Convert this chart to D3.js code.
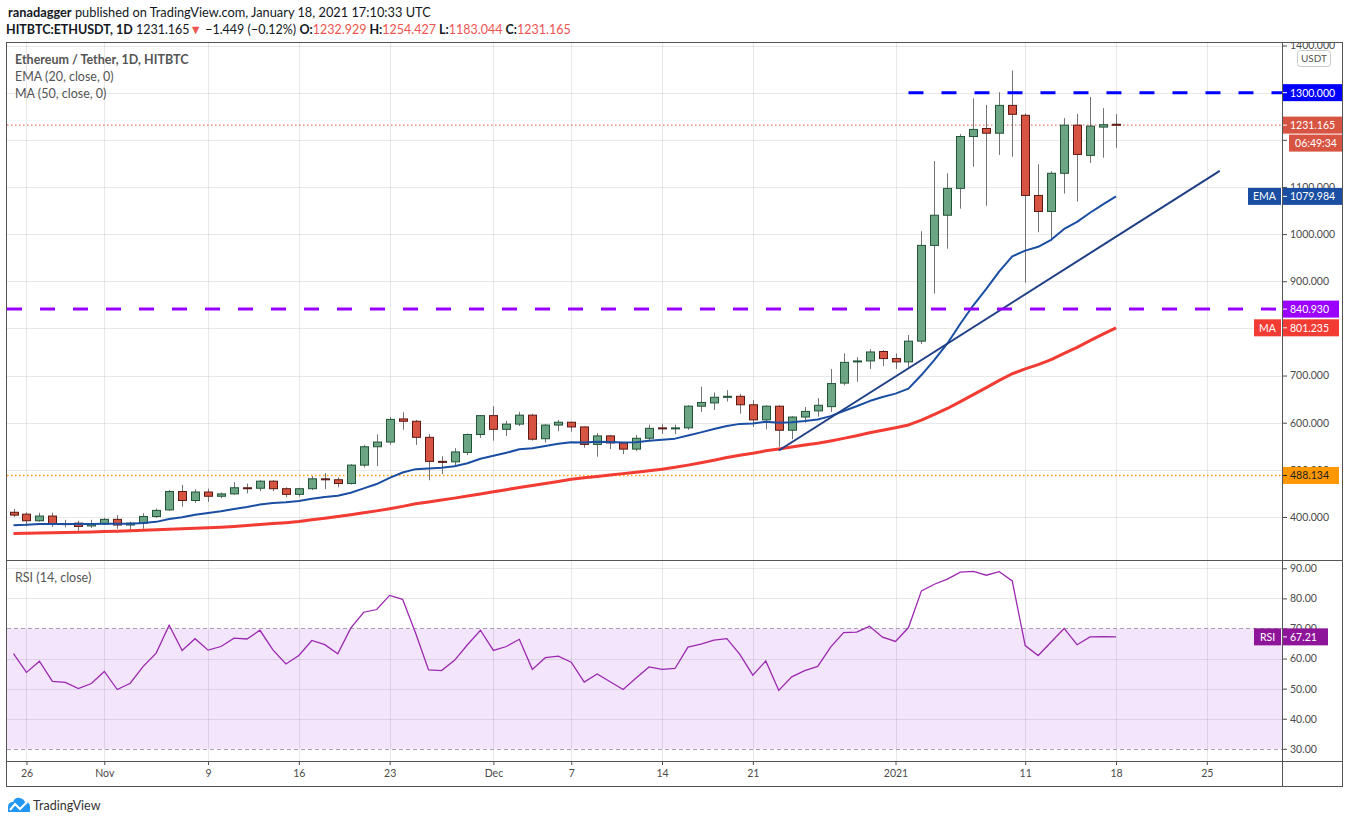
<!DOCTYPE html>
<html>
<head>
<meta charset="utf-8">
<script src="https://cdn.jsdelivr.net/npm/d3@7"></script>
<style>
	body { margin: 0; background: #fff; }
	text { font-family: Lato, "Open Sans", sans-serif; }
</style>
</head>
<body>
<script>
/* ETH/USDT daily candles, 25 Oct 2020 .. 18 Jan 2021 */
const firstDay = '2020-10-25';
const lastDay = '2021-01-18';

const opens = [410, 406, 392, 402, 386, 387, 381, 385, 395, 383,
	387, 401, 415, 454, 435, 453, 444, 449, 462, 461,
	476, 460, 448, 460, 481, 479, 471, 510, 549, 559,
	608, 603, 569, 518, 517, 537, 575, 615, 586, 597,
	616, 566, 595, 601, 591, 554, 572, 557, 544, 567,
	589, 587, 589, 635, 642, 654, 656, 638, 606, 635,
	584, 612, 625, 634, 684, 729, 731, 751, 736, 729,
	773, 976, 1040, 1097, 1207, 1224, 1214, 1273, 1252, 1082,
	1048, 1129, 1231, 1167, 1227, 1232.929];
const highs = [417, 410, 409, 409, 394, 392, 394, 398, 404, 390,
	408, 418, 457, 468, 459, 460, 452, 474, 471, 478,
	478, 463, 462, 487, 493, 484, 512, 553, 575, 612,
	622, 606, 576, 529, 546, 577, 616, 635, 604, 623,
	619, 597, 606, 602, 592, 578, 574, 559, 574, 596,
	597, 596, 637, 676, 664, 669, 661, 648, 637, 637,
	614, 633, 652, 714, 747, 739, 756, 754, 747, 786,
	1006, 1155, 1129, 1212, 1288, 1274, 1301, 1347, 1256, 1148,
	1133, 1246, 1255, 1291, 1267, 1254.427];
const lows = [400, 380, 390, 379, 378, 371, 377, 383, 375, 371,
	375, 398, 413, 422, 430, 432, 440, 447, 450, 455,
	455, 442, 443, 457, 459, 463, 469, 505, 508, 553,
	585, 553, 478, 491, 507, 531, 568, 562, 572, 593,
	562, 558, 582, 581, 547, 528, 544, 533, 540, 563,
	576, 576, 585, 623, 627, 645, 619, 591, 586, 549,
	565, 600, 613, 623, 679, 687, 714, 720, 714, 717,
	767, 874, 969, 1054, 1143, 1060, 1168, 1164, 897, 1004,
	986, 1086, 1069, 1151, 1162, 1183.044];
const closes = [404, 392, 402, 386, 385.5, 380, 385, 395, 383, 387,
	401, 414, 454, 435, 453, 444, 449, 462, 461, 476,
	460, 448, 460, 481, 479, 471, 510, 549, 559, 607,
	603, 569, 518, 517, 538, 575, 615, 586, 597, 616,
	565, 595, 601, 591, 554, 572, 557, 544, 567, 588,
	587, 589, 635, 643, 654, 656, 638, 606, 635, 584,
	612, 624, 637, 683, 728, 731, 750, 736, 729, 773,
	976, 1040, 1097, 1207, 1222, 1214, 1273, 1254, 1082, 1048,
	1129, 1231, 1169, 1229, 1232, 1231.165];

const ema20 = [382.4, 383.5, 385.3, 385.3, 385.4, 384.9, 384.9, 385.9, 385.6, 385.7,
	387.2, 389.7, 395.8, 399.5, 404.6, 408.4, 412.3, 417.0, 421.2, 426.4,
	429.6, 431.4, 434.1, 438.6, 442.4, 445.1, 451.3, 460.6, 469.9, 483.0,
	494.4, 501.5, 503.1, 504.4, 507.6, 514.0, 523.6, 529.7, 536.1, 543.7,
	545.7, 550.4, 555.2, 558.6, 558.2, 559.5, 559.3, 557.8, 558.7, 561.5,
	563.8, 566.2, 572.8, 579.5, 586.6, 593.2, 597.5, 598.3, 601.8, 600.1,
	601.2, 603.4, 606.6, 613.9, 624.8, 634.9, 645.9, 654.5, 661.6, 672.2,
	701.1, 733.4, 768.0, 809.8, 849.0, 884.0, 921.0, 952.7, 965.0, 973.0,
	987.8, 1011.0, 1026.0, 1045.3, 1063.0, 1079.984];
const ma50 = [365.0, 365.5, 366.0, 366.5, 367.0, 367.5, 368.0, 369.0, 370.0, 371.0,
	372.0, 373.0, 374.0, 375.0, 376.0, 377.0, 378.5, 380.0, 382.0, 384.0,
	386.0, 388.0, 390.5, 394.0, 397.5, 401.0, 405.0, 409.0, 413.0, 417.5,
	422.5, 428.0, 432.0, 436.0, 440.0, 444.5, 449.0, 453.5, 458.0, 462.5,
	467.0, 471.0, 475.5, 480.0, 483.0, 486.0, 489.0, 492.0, 495.0, 498.0,
	501.4, 505.3, 510.0, 515.1, 520.5, 526.0, 531.1, 535.3, 540.3, 544.3,
	548.5, 552.7, 556.3, 561.3, 566.8, 572.5, 578.5, 584.0, 589.4, 595.3,
	605.6, 617.5, 630.2, 644.7, 659.6, 674.5, 689.7, 703.8, 714.3, 723.1,
	733.6, 746.9, 759.9, 774.1, 788.0, 801.235];
const rsi14 = [61.6, 55.4, 59.1, 52.4, 52.1, 50.0, 51.7, 55.7, 49.7, 51.8,
	57.4, 61.8, 71.1, 62.7, 66.6, 62.8, 64.0, 66.8, 66.5, 69.4,
	62.9, 58.2, 61.0, 66.0, 64.6, 61.6, 70.1, 75.4, 76.3, 81.0,
	79.7, 68.5, 56.2, 56.0, 59.4, 64.6, 69.4, 62.7, 64.0, 66.4,
	56.4, 60.3, 60.8, 58.8, 52.2, 54.9, 52.3, 49.7, 53.5, 57.2,
	56.4, 56.7, 63.8, 64.8, 66.1, 66.6, 61.4, 54.5, 59.2, 49.4,
	53.9, 56.0, 57.4, 63.8, 68.6, 68.8, 70.7, 67.1, 65.7, 70.3,
	82.5, 84.7, 86.4, 88.7, 89.0, 87.7, 88.9, 85.8, 64.3, 61.0,
	65.5, 70.0, 64.6, 67.2, 67.3, 67.21];

/* drawings */
const resistance = { from: '2021-01-02', price: 1300 };
const support = 840.93;
const prevLevel = 488.134;
const trendline = [['2020-12-23', 541], ['2021-01-26', 1134]];

/* ticks */
const timeTicks = ['2020-10-26', '2020-11-01', '2020-11-09', '2020-11-16', '2020-11-23', '2020-12-01',
	'2020-12-07', '2020-12-14', '2020-12-21', '2021-01-01', '2021-01-11', '2021-01-18', '2021-01-25'];
const timeLabels = ['26', 'Nov', '9', '16', '23', 'Dec', '7', '14', '21', '2021', '11', '18', '25'];
const priceTicks = [400, 500, 600, 700, 800, 900, 1000, 1100, 1200, 1300, 1400];
// these sit fully under a badge on the scale, so only their tick mark shows
const hiddenPriceLabels = [800, 1200, 1300];
const rsiTicks = [30, 40, 50, 60, 70, 80, 90];

/* layout */
const W = 1351, H = 824;
const paneL = 7, paneR = 1282, axisR = 1343;
const mainTop = 43, mainBot = 560, rsiBot = 761, timeBot = 787;

const colors = {
	up: '#6ba583', upBorder: '#225437',
	down: '#d75442', downBorder: '#5b1a13',
	wick: '#737375',
	ema: '#1a4ea3', ma: '#f23b33', trend: '#1f3f86',
	res: '#0000ff', sup: '#9900ff', prev: '#ff9800',
	last: '#d75442', rsi: '#9c27b0', rsiBand: '#f3e6fc',
	text: '#4a4a4a', frame: '#555'
};

const parse = d3.utcParse('%Y-%m-%d');
const days = d3.utcDay.range(parse(firstDay), d3.utcDay.offset(parse(lastDay), 1));
const candles = days.map((d, i) => ({ date: d, o: opens[i], h: highs[i], l: lows[i], c: closes[i] }));

const x = d3.scaleUtc().domain([parse(firstDay), parse(lastDay)]).range([13.5, 1116]);
const y = d3.scaleLinear().domain([400, 1400]).range([517, 45.5]);
const yr = d3.scaleLinear().domain([30, 90]).range([748.8, 568.3]);

const svg = d3.select('body').append('svg')
	.attr('width', W).attr('height', H)
	.style('display', 'block');

svg.append('rect').attr('width', W).attr('height', H).attr('fill', '#fff');

const defs = svg.append('defs');
function clip(id, x0, y0, x1, y1) {
	defs.append('clipPath').attr('id', id).append('rect')
		.attr('x', x0).attr('y', y0).attr('width', x1 - x0).attr('height', y1 - y0);
	return `url(#${id})`;
}
const clipMain = clip('clip-main', paneL, mainTop, paneR, mainBot);
const clipRsi = clip('clip-rsi', paneL, mainBot, paneR, rsiBot);
const clipPAxis = clip('clip-paxis', paneR, mainTop, axisR, mainBot);

/* header */
const header = svg.append('g').attr('fill', '#131722').style('font-size', '12.8px');
header.append('text').attr('x', 8).attr('y', 17)
	.call(t => {
		t.append('tspan').attr('font-weight', 'bold').text('ranadagger');
		t.append('tspan').text(' published on TradingView.com, January 18, 2021 17:10:33 UTC');
	});
const quote = header.append('text').attr('x', 6).attr('y', 34).style('font-size', '12.5px');
[
	['HITBTC:ETHUSDT, 1D', 'bold', null],
	[' 1231.165', null, null],
	['\u25BC', null, '#ef5350'],
	[' \u22121.449 (\u22120.12%) ', null, null],
	['O:', 'bold', null], ['1232.929', null, '#ef5350'],
	[' H:', 'bold', null], ['1254.427', null, '#ef5350'],
	[' L:', 'bold', null], ['1183.044', null, '#ef5350'],
	[' C:', 'bold', null], ['1231.165', null, '#ef5350']
].forEach(([s, w, c]) => {
	quote.append('tspan').attr('font-weight', w).attr('fill', c).attr('xml:space', 'preserve').text(s);
});

/* rsi band under everything in the lower pane */
svg.append('rect')
	.attr('x', paneL).attr('width', paneR - paneL)
	.attr('y', yr(70)).attr('height', yr(30) - yr(70))
	.attr('fill', colors.rsiBand);

/* grid */
const grid = svg.append('g').attr('stroke', 'rgba(0,0,0,0.09)').attr('stroke-width', 1);
grid.selectAll('.vgrid').data(timeTicks).join('line')
	.attr('class', 'vgrid')
	.attr('x1', d => Math.round(x(parse(d))) + 0.5).attr('x2', d => Math.round(x(parse(d))) + 0.5)
	.attr('y1', mainTop).attr('y2', rsiBot);
grid.append('g').attr('clip-path', clipMain)
	.selectAll('line').data(priceTicks).join('line')
	.attr('x1', paneL).attr('x2', paneR)
	.attr('y1', d => Math.round(y(d)) + 0.5).attr('y2', d => Math.round(y(d)) + 0.5);
grid.append('g')
	.selectAll('line').data(rsiTicks.filter(v => v !== 30 && v !== 70)).join('line')
	.attr('x1', paneL).attr('x2', paneR)
	.attr('y1', d => Math.round(yr(d)) + 0.5).attr('y2', d => Math.round(yr(d)) + 0.5);

/* rsi band borders */
svg.append('g').selectAll('line').data([70, 30]).join('line')
	.attr('x1', paneL).attr('x2', paneR)
	.attr('y1', d => Math.round(yr(d)) + 0.5).attr('y2', d => Math.round(yr(d)) + 0.5)
	.attr('stroke', '#a8a0ac').attr('stroke-width', 1).attr('stroke-dasharray', '4,3');

/* main pane */
const main = svg.append('g').attr('clip-path', clipMain);

main.append('line')
	.attr('x1', paneL).attr('x2', paneR)
	.attr('y1', y(prevLevel)).attr('y2', y(prevLevel))
	.attr('stroke', colors.prev).attr('stroke-width', 1.5).attr('stroke-dasharray', '1.5,2.5');
main.append('line')
	.attr('x1', paneL).attr('x2', paneR)
	.attr('y1', y(closes[closes.length - 1])).attr('y2', y(closes[closes.length - 1]))
	.attr('stroke', colors.last).attr('stroke-width', 1).attr('stroke-dasharray', '1.5,2.5');

const candle = main.append('g').selectAll('g').data(candles).join('g');
candle.append('line')
	.attr('x1', d => Math.round(x(d.date)) + 0.5).attr('x2', d => Math.round(x(d.date)) + 0.5)
	.attr('y1', d => y(d.h)).attr('y2', d => y(d.l))
	.attr('stroke', colors.wick).attr('stroke-width', 1);
candle.append('rect')
	.attr('x', d => Math.round(x(d.date)) - 3.5)
	.attr('width', 8)
	.attr('y', d => y(Math.max(d.o, d.c)))
	.attr('height', d => Math.max(1, Math.abs(y(d.o) - y(d.c))))
	.attr('fill', d => d.c >= d.o ? colors.up : colors.down)
	.attr('stroke', d => d.c >= d.o ? colors.upBorder : colors.downBorder)
	.attr('stroke-width', 1);

const lineOf = values => d3.line().x((v, i) => x(days[i])).y(v => y(v))(values);
main.append('path').attr('d', lineOf(ma50))
	.attr('fill', 'none').attr('stroke', colors.ma).attr('stroke-width', 3).attr('stroke-linejoin', 'round');
main.append('path').attr('d', lineOf(ema20))
	.attr('fill', 'none').attr('stroke', colors.ema).attr('stroke-width', 2).attr('stroke-linejoin', 'round');

main.append('line')
	.attr('x1', x(parse(trendline[0][0]))).attr('y1', y(trendline[0][1]))
	.attr('x2', x(parse(trendline[1][0]))).attr('y2', y(trendline[1][1]))
	.attr('stroke', colors.trend).attr('stroke-width', 2);

main.append('line')
	.attr('x1', x(parse(resistance.from))).attr('x2', paneR)
	.attr('y1', y(resistance.price)).attr('y2', y(resistance.price))
	.attr('stroke', colors.res).attr('stroke-width', 3).attr('stroke-dasharray', '15,18');
main.append('line')
	.attr('x1', paneL).attr('x2', paneR)
	.attr('y1', y(support)).attr('y2', y(support))
	.attr('stroke', colors.sup).attr('stroke-width', 3).attr('stroke-dasharray', '15,18');

/* rsi pane */
svg.append('g').attr('clip-path', clipRsi)
	.append('path')
	.attr('d', d3.line().x((v, i) => x(days[i])).y(v => yr(v))(rsi14))
	.attr('fill', 'none').attr('stroke', colors.rsi).attr('stroke-width', 1.3);

/* legends */
const legend = svg.append('g').attr('fill', '#555').style('font-size', '12.5px');
legend.append('text').attr('x', 15).attr('y', 64).attr('font-weight', 'bold').text('Ethereum / Tether, 1D, HITBTC');
legend.append('text').attr('x', 15).attr('y', 81).text('EMA (20, close, 0)');
legend.append('text').attr('x', 15).attr('y', 98).text('MA (50, close, 0)');
legend.append('text').attr('x', 15).attr('y', 582).text('RSI (14, close)');

/* axes */
function styleAxis(g) {
	g.select('.domain').remove();
	g.selectAll('.tick line').attr('stroke', colors.text);
	g.selectAll('.tick text').attr('fill', colors.text)
		.style('font-size', '10.5px').style('font-family', 'Lato, "Open Sans", sans-serif');
}

svg.append('g').attr('clip-path', clipPAxis)
	.append('g').attr('transform', `translate(${paneR},0)`)
	.call(d3.axisRight(y).tickValues(priceTicks).tickSize(5).tickPadding(3)
		.tickFormat(d => hiddenPriceLabels.includes(d) ? '' : d3.format('.3f')(d)))
	.call(styleAxis);

svg.append('g').attr('transform', `translate(${paneR},0)`)
	.call(d3.axisRight(yr).tickValues(rsiTicks).tickSize(5).tickPadding(3).tickFormat(d3.format('.2f')))
	.call(styleAxis);

svg.append('g').attr('transform', `translate(0,${rsiBot})`)
	.call(d3.axisBottom(x).tickValues(timeTicks.map(parse)).tickSize(4).tickPadding(5)
		.tickFormat((d, i) => timeLabels[i]))
	.call(styleAxis);

/* USDT unit button */
svg.append('rect').attr('x', 1297.5).attr('y', 50.5).attr('width', 33).attr('height', 16).attr('rx', 3)
	.attr('fill', '#fff').attr('stroke', '#c9c9c9');
svg.append('text').attr('x', 1314).attr('y', 62).attr('text-anchor', 'middle')
	.attr('fill', '#555').style('font-size', '10px').text('USDT');

/* price badges on the scale */
function badge(x0, yc, w, label, bg, fg, anchor) {
	const g = svg.append('g');
	g.append('rect').attr('x', x0).attr('y', yc - 8.5).attr('width', w).attr('height', 17).attr('fill', bg);
	g.append('text')
		.attr('x', anchor === 'middle' ? x0 + w / 2 : x0 + 7)
		.attr('y', yc + 4)
		.attr('text-anchor', anchor || 'start')
		.attr('fill', fg).style('font-size', '10.5px')
		.text(label);
	if (anchor !== 'middle') {
		g.append('line').attr('x1', x0).attr('x2', x0 + 4).attr('y1', yc).attr('y2', yc).attr('stroke', fg);
	}
}
const lastClose = closes[closes.length - 1];
badge(paneR + 1, y(resistance.price), 60, d3.format('.3f')(resistance.price), colors.res, '#fff');
badge(paneR + 1, y(lastClose), 60, d3.format('.3f')(lastClose), colors.last, '#fff');
badge(paneR + 7, y(lastClose) + 18, 54, '06:49:34', colors.last, '#fff', 'middle');
badge(1248, y(ema20[ema20.length - 1]), 33, 'EMA', colors.ema, '#fff', 'middle');
badge(paneR + 1, y(ema20[ema20.length - 1]), 60, d3.format('.3f')(ema20[ema20.length - 1]), colors.ema, '#fff');
badge(paneR + 1, y(support), 56, d3.format('.3f')(support), colors.sup, '#fff');
badge(1254, y(ma50[ma50.length - 1]), 27, 'MA', colors.ma, '#fff', 'middle');
badge(paneR + 1, y(ma50[ma50.length - 1]), 56, d3.format('.3f')(ma50[ma50.length - 1]), colors.ma, '#fff');
badge(paneR + 1, y(prevLevel), 56, d3.format('.3f')(prevLevel), colors.prev, '#222');
badge(1254, yr(rsi14[rsi14.length - 1]), 27, 'RSI', '#8e1599', '#fff', 'middle');
badge(paneR + 1, yr(rsi14[rsi14.length - 1]), 45, d3.format('.2f')(rsi14[rsi14.length - 1]), '#8e1599', '#fff');

/* frame */
const frame = svg.append('g').attr('stroke', colors.frame).attr('stroke-width', 1).attr('fill', 'none');
frame.append('rect').attr('x', paneL - 0.5).attr('y', mainTop - 0.5)
	.attr('width', axisR - paneL).attr('height', timeBot - mainTop);
frame.append('line').attr('x1', paneR + 0.5).attr('x2', paneR + 0.5).attr('y1', mainTop).attr('y2', timeBot);
[mainBot, rsiBot].forEach(v => {
	frame.append('line').attr('x1', paneL).attr('x2', axisR).attr('y1', v + 0.5).attr('y2', v + 0.5);
});

/* TradingView mark */
const logo = svg.append('g').attr('transform', 'translate(8,797)');
logo.append('path')
	.attr('d', 'M0,15 L0,10 Q0,5 5,5 Q7,0 12,1 Q16,2 17,5 Q22,5 22,10 L22,15 Z')
	.attr('fill', '#2196f3');
logo.append('polyline').attr('points', '2,13 7,7 12,12 19,5')
	.attr('fill', 'none').attr('stroke', '#fff').attr('stroke-width', 2);
svg.append('text').attr('x', 33).attr('y', 810).attr('fill', '#333')
	.style('font-size', '12.5px').text('TradingView');
</script>
</body>
</html>
